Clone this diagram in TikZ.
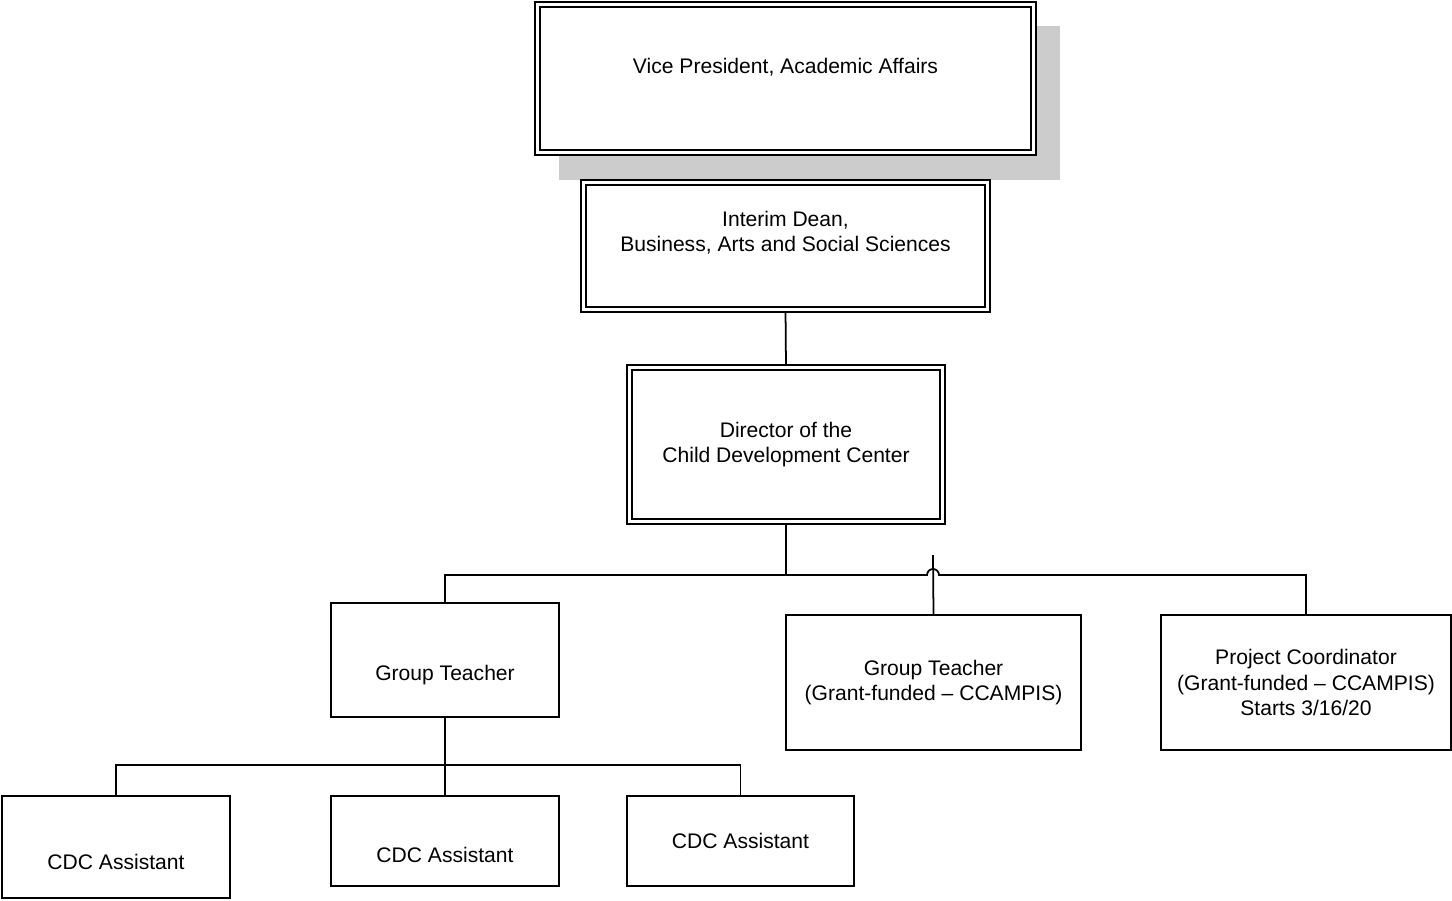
\documentclass[tikz,border=0pt]{standalone}
\usepackage{fontspec}
\setmainfont{Liberation Sans}
\usetikzlibrary{positioning, backgrounds, calc}

\begin{document}
\begin{tikzpicture}[x=0.02cm, y=-0.02cm,
    every node/.style={font=\fontsize{12}{14.5}\selectfont, align=center, inner sep=0pt, outer sep=0pt},
    box/.style={draw, line width=1.1pt, fill=white},
    dbox/.style={draw, line width=0.9pt, double=white, double distance=1.8pt, fill=white},
    link/.style={line width=1pt}]
    \useasboundingbox (0,0) rectangle (1452,900);

    % nodes %
      \node[dbox, minimum width=9.92cm, minimum height=2.96cm] (vp) at (785.5,78.5) {Vice President, Academic Affairs\\[-4.5pt]\strut};
      \node[dbox, minimum width=8.08cm, minimum height=2.54cm] (dean) at (785.5,246) {Interim Dean,\\Business, Arts and Social Sciences\\[-2pt]\strut};
      \node[dbox, minimum width=6.26cm, minimum height=3.08cm] (dir) at (786,444.5) {Director of the\\Child Development Center};
      \node[box, minimum width=4.56cm, minimum height=2.28cm] (gt1) at (445,660) {\strut\\[1pt]Group Teacher};
      \node[box, minimum width=5.9cm, minimum height=2.7cm] (gt2) at (933.5,682.5) {Group Teacher\\(Grant-funded -- CCAMPIS)};
      \node[box, minimum width=5.8cm, minimum height=2.7cm] (pc) at (1306,682.5) {Project Coordinator\\(Grant-funded -- CCAMPIS)\\Starts 3/16/20};
      \node[box, minimum width=4.56cm, minimum height=2.04cm] (cdc1) at (116,847) {\strut\\[1pt]CDC Assistant};
      \node[box, minimum width=4.56cm, minimum height=1.8cm] (cdc2) at (445,841) {\strut\\CDC Assistant};
      \node[box, minimum width=4.54cm, minimum height=1.8cm] (cdc3) at (740.5,841) {CDC Assistant};

      \coordinate (tbus) at (786,575);
      \coordinate (hopl) at (927,575);
      \coordinate (gt2top) at (933,555);
      \coordinate (cbus) at (445,765);

      % edges %
      \begin{pgfonlayer}{background}
      \fill[black!20] ($(vp.north west)+(21.5,21.5)$) rectangle ($(vp.south east)+(26.5,27.5)$);
      \draw[link] (dean.south) -- (dir.north);
      \draw[link] (dir.south) -- (tbus);
      \draw[link] (gt1.north) |- (hopl) arc[start angle=180, end angle=0, radius=0.12cm] -| (pc.north);
      \draw[link] (gt2top) -- (gt2.north);
      \draw[link] (gt1.south) -- (cbus);
      \draw[link] (cdc1.north) |- (cbus) -| (cdc3.north);
      \draw[link] (cbus) -- (cdc2.north);
      \end{pgfonlayer}
    \end{tikzpicture}
\end{document}
